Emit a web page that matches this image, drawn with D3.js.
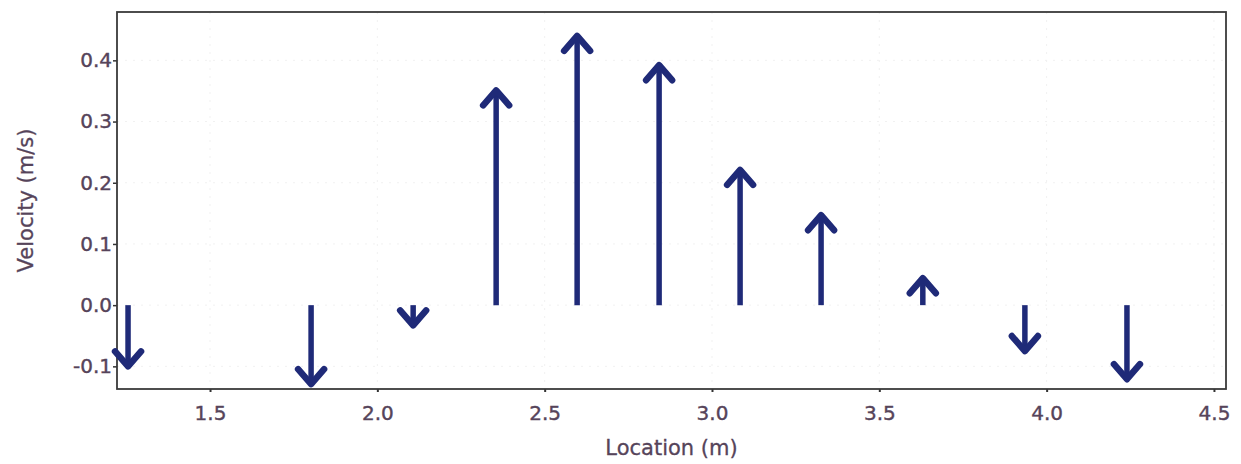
<!DOCTYPE html>
<html>
<head>
<meta charset="utf-8">
<script src="https://cdn.jsdelivr.net/npm/d3@7"></script>
<style>
  html, body { margin: 0; padding: 0; background: #fff; }
  svg { display: block; }
  .tick text { font-family: "DejaVu Sans", Verdana, sans-serif; fill: #56445a; stroke: #56445a; stroke-width: 0.4; }
</style>
</head>
<body>
<svg id="chart" width="1241" height="464"></svg>
<script>
// ---- data ----
const locations  = [1.255, 1.802, 2.107, 2.355, 2.597, 2.842, 3.084, 3.326, 3.630, 3.935, 4.240];
const velocities = [-0.100, -0.129, -0.033, 0.351, 0.440, 0.392, 0.221, 0.147, 0.044, -0.075, -0.121];
const xTicks = [1.5, 2.0, 2.5, 3.0, 3.5, 4.0, 4.5];
const yTicks = [-0.1, 0.0, 0.1, 0.2, 0.3, 0.4];
const xLabel = "Location (m)";
const yLabel = "Velocity (m/s)";

// ---- layout ----
const W = 1241, H = 464;
const margin = { left: 117, top: 12, right: 15, bottom: 75 };
const svg = d3.select("#chart");

const x = d3.scaleLinear().domain([1.222, 4.536]).range([margin.left, W - margin.right]);
const y = d3.scaleLinear().domain([-0.137, 0.479]).range([H - margin.bottom, margin.top]);

const textColor = "#56445a";
const arrowColor = "#1f2a78";
const fmt = d => d.toFixed(1);

// faint grid
const grid = svg.append("g");
grid.selectAll("line.gx").data(xTicks).join("line")
  .attr("x1", d => x(d)).attr("x2", d => x(d))
  .attr("y1", y.range()[1]).attr("y2", y.range()[0])
  .attr("stroke", "#f1f1f1").attr("stroke-width", 1).attr("stroke-dasharray", "2,6");
grid.selectAll("line.gy").data(yTicks).join("line")
  .attr("y1", d => y(d)).attr("y2", d => y(d))
  .attr("x1", x.range()[0]).attr("x2", x.range()[1])
  .attr("stroke", "#f1f1f1").attr("stroke-width", 1).attr("stroke-dasharray", "2,6");

// axes
const xAxis = svg.append("g")
  .attr("transform", `translate(0,${H - margin.bottom})`)
  .call(d3.axisBottom(x).tickValues(xTicks).tickFormat(fmt).tickSize(3).tickPadding(12).tickSizeOuter(0));
xAxis.selectAll(".tick text").attr("font-size", 20).attr("dy", "0.78em");
xAxis.selectAll(".tick line").attr("stroke", "#333").attr("stroke-width", 2);
xAxis.select(".domain").remove();

const yAxis = svg.append("g")
  .attr("transform", `translate(${margin.left},0)`)
  .call(d3.axisLeft(y).tickValues(yTicks).tickFormat(fmt).tickSize(4).tickPadding(1).tickSizeOuter(0));
yAxis.selectAll(".tick text").attr("font-size", 20);
yAxis.selectAll(".tick line").attr("stroke", "#333").attr("stroke-width", 1.5);
yAxis.select(".domain").remove();

// frame
svg.append("rect")
  .attr("x", x.range()[0]).attr("y", y.range()[1])
  .attr("width", x.range()[1] - x.range()[0])
  .attr("height", y.range()[0] - y.range()[1])
  .attr("fill", "none").attr("stroke", "#3a3a3a").attr("stroke-width", 1.8);

// axis titles
svg.append("text")
  .attr("x", (x.range()[0] + x.range()[1]) / 2).attr("y", 455)
  .attr("text-anchor", "middle")
  .attr("font-family", "DejaVu Sans, Verdana, sans-serif").attr("font-size", 21)
  .attr("fill", textColor).attr("stroke", textColor).attr("stroke-width", 0.3)
  .text(xLabel);

svg.append("text")
  .attr("transform", `translate(33,${(y.range()[0] + y.range()[1]) / 2}) rotate(-90)`)
  .attr("text-anchor", "middle")
  .attr("font-family", "DejaVu Sans, Verdana, sans-serif").attr("font-size", 21)
  .attr("fill", textColor).attr("stroke", textColor).attr("stroke-width", 0.3)
  .text(yLabel);

// arrows
const data = locations.map((l, i) => ({ loc: l, v: velocities[i] }));
const arrows = svg.append("g");
arrows.selectAll("line.shaft").data(data).join("line")
  .attr("class", "shaft")
  .attr("x1", d => x(d.loc)).attr("x2", d => x(d.loc))
  .attr("y1", y(0)).attr("y2", d => y(d.v))
  .attr("stroke", arrowColor).attr("stroke-width", 5.5);

arrows.selectAll("path.head").data(data).join("path")
  .attr("class", "head")
  .attr("d", d => {
    const cx = x(d.loc), ty = y(d.v);
    const dir = d.v >= 0 ? 1 : -1;
    const hw = 13, hh = 15;
    return `M${cx - hw},${ty + dir * hh} L${cx},${ty} L${cx + hw},${ty + dir * hh}`;
  })
  .attr("fill", "none").attr("stroke", arrowColor).attr("stroke-width", 6.5)
  .attr("stroke-linejoin", "round").attr("stroke-linecap", "round");
</script>
</body>
</html>
